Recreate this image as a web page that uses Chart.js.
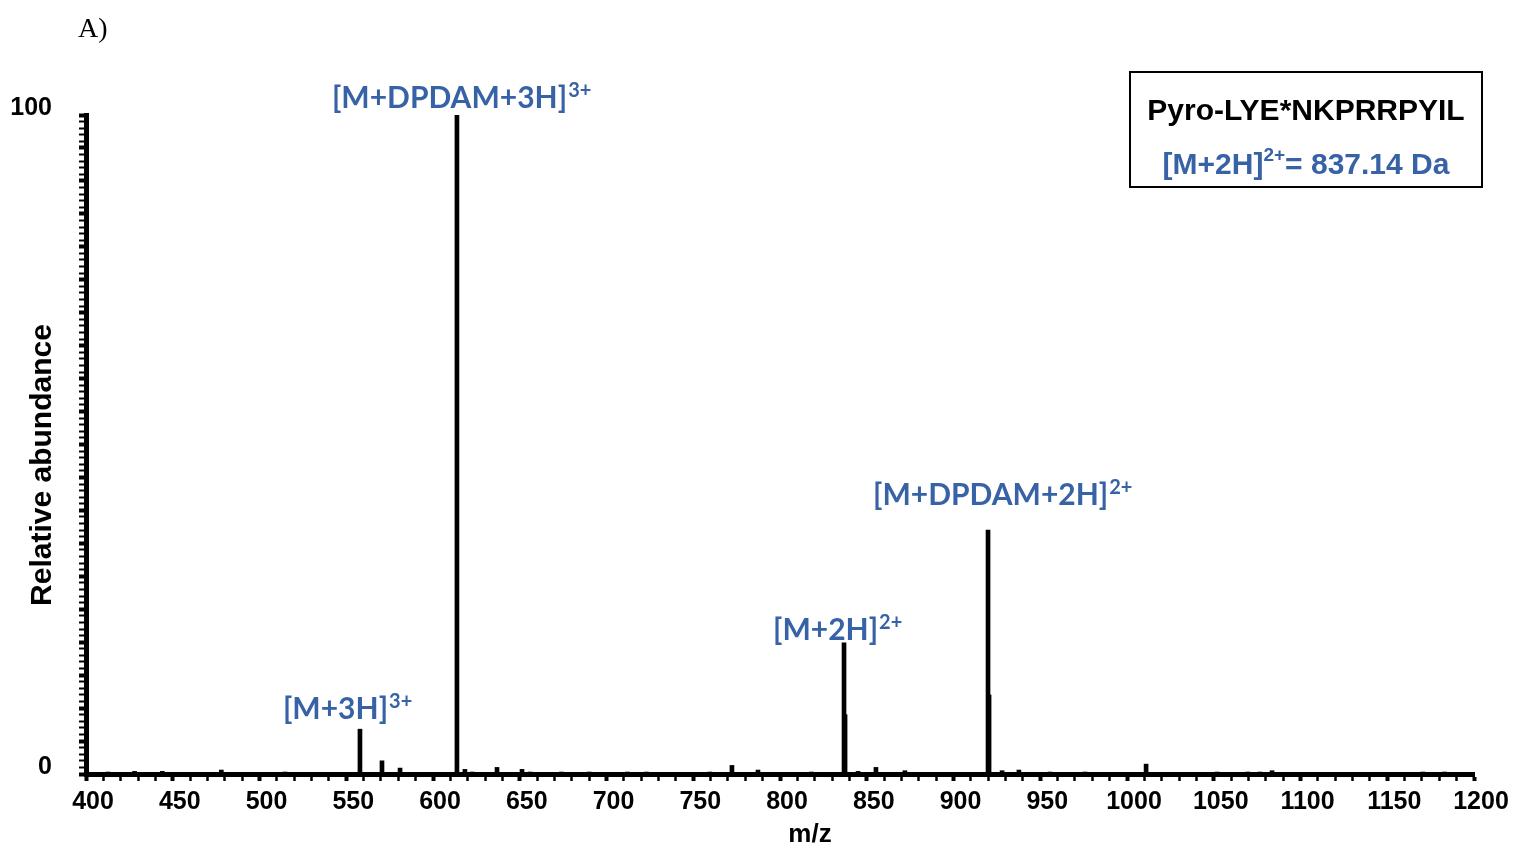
<!DOCTYPE html>
<html>
<head>
<meta charset="utf-8">
<script src="https://cdn.jsdelivr.net/npm/chart.js@4/dist/chart.umd.min.js"></script>
<style>
  html, body { margin: 0; padding: 0; background: #fff; }
  #wrap { width: 1515px; height: 848px; position: relative; }
</style>
</head>
<body>
<div id="wrap"><canvas id="spectrum"></canvas></div>
<script>
// spectrum peaks (m/z, relative abundance %)
const peakMz = [412.7, 428, 444, 478, 514.7, 557.9, 570.6, 581, 613.8, 618.4, 622.5, 636.9, 651.3, 656,
  674, 690, 712, 723, 759.6, 772.3, 787.3, 818, 836.9, 837.5, 845, 855.3, 872, 919.9, 920.5, 928,
  937.7, 955.6, 975.8, 1011, 1051.9, 1069.7, 1076.7, 1083.6, 1170.6, 1183];
const abundance = [0.3, 0.4, 0.4, 0.6, 0.3, 6.8, 2.0, 0.9, 100, 0.7, 0.3, 1.0, 0.7, 0.3,
  0.3, 0.3, 0.3, 0.3, 0.3, 1.3, 0.6, 0.3, 19.9, 9, 0.4, 1.0, 0.5, 37.0, 12, 0.5,
  0.6, 0.3, 0.3, 1.5, 0.3, 0.3, 0.3, 0.5, 0.3, 0.3];

// x axis: labelled every 50, minor ticks every 10
const xMin = 400, xMax = 1200, xMajor = 50, xMinor = 10;
// y axis: only 0 and 100 are labelled, ticks every 1, bigger every 5
const yTickLabels = [0, 100];
const yMajor = 5, yMinor = 1;

const xTitle = 'm/z';
const yTitle = 'Relative abundance';

// ion annotations
const labelMz = [557.9, 613.8, 836.9, 919.9];
const labelText = ['[M+3H]', '[M+DPDAM+3H]', '[M+2H]', '[M+DPDAM+2H]'];
const labelCharge = ['3+', '3+', '2+', '2+'];

const peptide = 'Pyro-LYE*NKPRRPYIL';
const precursorText = '[M+2H]';
const precursorCharge = '2+';
const precursorValue = '= 837.14 Da';

const BLUE = '#3862a6';

const annotations = {
  id: 'annotations',
  afterDraw(chart) {
    const ctx = chart.ctx;
    const xs = chart.scales.x, ys = chart.scales.y;
    // pixel offsets of each label from its peak top
    const offs = [[-77, -10], [-125, -7], [-71, -3], [-115, -25]];
    ctx.save();
    ctx.fillStyle = BLUE;
    ctx.textAlign = 'left';
    ctx.textBaseline = 'alphabetic';
    labelMz.forEach((mz, i) => {
      const k = peakMz.indexOf(mz);
      const px = xs.getPixelForValue(mz) + offs[i][0];
      const py = ys.getPixelForValue(abundance[k]) + offs[i][1];
      ctx.font = 'bold 30px Lato';
      ctx.fillText(labelText[i], px, py);
      const w = ctx.measureText(labelText[i]).width;
      ctx.font = 'bold 20px Lato';
      ctx.fillText(labelCharge[i], px + w + 1, py - 11);
    });

    // axis titles
    ctx.fillStyle = '#000';
    ctx.textAlign = 'center';
    ctx.textBaseline = 'middle';
    ctx.font = 'bold 26px "Liberation Sans"';
    ctx.fillText(xTitle, 810, 835);
    ctx.save();
    ctx.translate(43, 465);
    ctx.rotate(-Math.PI / 2);
    ctx.font = 'bold 30px "Liberation Sans"';
    ctx.fillText(yTitle, 0, 0);
    ctx.restore();

    // figure panel letter
    ctx.textAlign = 'left';
    ctx.textBaseline = 'alphabetic';
    ctx.font = '28px "Liberation Serif"';
    ctx.fillText('A)', 78, 37);

    // peptide box
    ctx.lineWidth = 2;
    ctx.strokeStyle = '#000';
    ctx.strokeRect(1130, 72, 352, 115);
    ctx.textAlign = 'center';
    ctx.font = 'bold 30px "Liberation Sans"';
    ctx.fillText(peptide, 1306, 120);

    ctx.fillStyle = BLUE;
    const big = 'bold 30px "Liberation Sans"', small = 'bold 19px "Liberation Sans"';
    ctx.font = big;
    const w1 = ctx.measureText(precursorText).width;
    const w3 = ctx.measureText(precursorValue).width;
    ctx.font = small;
    const w2 = ctx.measureText(precursorCharge).width;
    const sx = 1306 - (w1 + w2 + w3) / 2;
    ctx.textAlign = 'left';
    ctx.font = big;
    ctx.fillText(precursorText, sx, 174);
    ctx.fillText(precursorValue, sx + w1 + w2, 174);
    ctx.font = small;
    ctx.fillText(precursorCharge, sx + w1, 161);
    ctx.restore();
  }
};

new Chart(document.getElementById('spectrum'), {
  type: 'bar',
  data: {
    datasets: [{
      data: peakMz.map((mz, i) => ({ x: mz, y: abundance[i] })),
      backgroundColor: '#000',
      borderWidth: 0,
      barThickness: 4
    }]
  },
  options: {
    responsive: true,
    maintainAspectRatio: false,
    animation: false,
    layout: { padding: { top: 115, right: 41, left: 0, bottom: 0 } },
    plugins: { legend: { display: false }, tooltip: { enabled: false } },
    scales: {
      x: {
        type: 'linear',
        min: xMin,
        max: xMax,
        offset: false,
        afterFit: s => { s.height = 74; },
        border: { display: true, width: 5, color: '#000' },
        grid: {
          offset: false,
          drawOnChartArea: false,
          drawTicks: true,
          tickLength: 7,
          tickColor: '#000',
          tickWidth: c => (c.tick && c.tick.value % xMajor === 0 ? 4 : 2.5)
        },
        ticks: {
          stepSize: xMinor,
          autoSkip: false,
          maxTicksLimit: 200,
          maxRotation: 0,
          padding: 6,
          labelOffset: 7,
          color: '#000',
          font: { family: '"Liberation Sans"', size: 25, weight: 'bold' },
          callback: v => (v % xMajor === 0 ? String(v) : '')
        },
        title: { display: false }
      },
      y: {
        min: 0,
        max: 100,
        afterFit: s => { s.width = 86; },
        border: { display: true, width: 5, color: '#000' },
        grid: {
          drawOnChartArea: false,
          drawTicks: true,
          tickLength: 7,
          tickColor: '#000',
          tickWidth: c => (c.tick && c.tick.value % yMajor === 0 ? 4 : 2)
        },
        ticks: {
          stepSize: yMinor,
          autoSkip: false,
          maxTicksLimit: 200,
          padding: 27,
          labelOffset: -7,
          color: '#000',
          font: { family: '"Liberation Sans"', size: 25, weight: 'bold' },
          callback: v => (yTickLabels.includes(v) ? String(v) : '')
        },
        title: { display: false }
      }
    }
  },
  plugins: [annotations]
});
</script>
</body>
</html>
